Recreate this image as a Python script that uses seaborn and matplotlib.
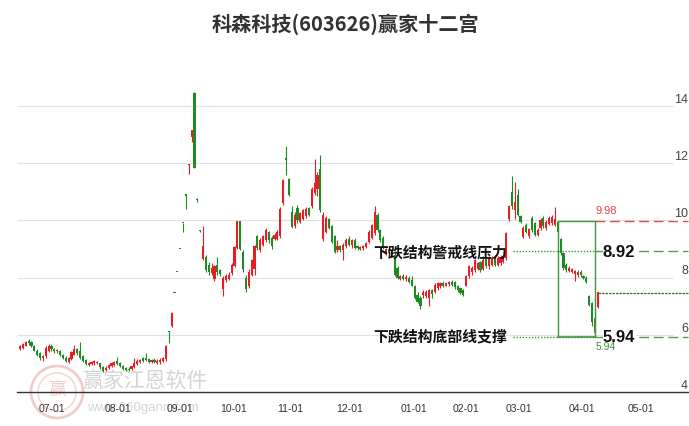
import numpy as np
import pandas as pd
import matplotlib
matplotlib.use('Agg')
import matplotlib.pyplot as plt
import matplotlib.transforms as mtransforms
from matplotlib.patches import Ellipse
import seaborn as sns

title = '科森科技(603626)赢家十二宫'

# daily candles, one entry per trading day
opens = [5.50, 5.55, 5.62, 5.80, 5.75, 5.62, 5.45, 5.35, 5.18, 5.25,
         5.45, 5.62, 5.52, 5.42, 5.45, 5.30, 5.20, 5.05, 5.15, 5.30,
         5.50, 5.42, 5.25, 5.12, 4.96, 4.98, 5.00, 5.02, 5.00, 4.86,
         4.78, 4.84, 4.90, 4.96, 5.10, 5.02, 4.92, 4.85, 4.82, 4.80,
         4.88, 4.98, 5.05, 5.18, 5.20, 5.15, 5.05, 5.12, 5.02, 5.06,
         5.10, 5.15, 6.13, 6.30, 7.46, 8.20, 9.00, 9.92, 10.89, 11.95,
         12.92, 14.45, 10.76, 9.64, 8.65, 8.72, 8.45, 8.15, 7.95, 8.45,
         8.25, 7.60, 7.90, 7.95, 8.15, 8.42, 9.05, 9.98, 8.90, 8.00,
         7.70, 8.10, 8.30, 9.45, 8.95, 9.15, 9.30, 9.58, 9.40, 9.36,
         9.35, 9.45, 10.60, 12.18, 11.45, 10.30, 9.80, 10.45, 9.95, 10.05,
         10.15, 10.45, 10.50, 10.95, 11.10, 11.80, 9.35, 9.60, 10.05, 9.80,
         9.45, 8.95, 9.10, 8.95, 9.10, 9.35, 9.15, 9.30, 9.10, 9.00,
         9.02, 9.08, 9.25, 9.40, 9.55, 10.20, 9.65, 9.40, 8.85, 9.00,
         8.78, 8.80, 8.35, 7.95, 8.05, 7.95, 8.00, 7.90, 7.72, 7.40,
         7.30, 7.38, 7.35, 7.30, 7.55, 7.50, 7.62, 7.70, 7.82, 7.72,
         7.76, 7.85, 7.84, 7.70, 7.62, 7.55, 7.72, 8.05, 8.20, 8.25,
         8.30, 8.53, 8.30, 8.65, 8.40, 8.45, 8.70, 8.45, 8.50, 8.55,
         8.70, 10.05, 10.98, 10.35, 10.90, 10.15, 9.42, 9.85, 9.45, 10.10,
         9.90, 9.48, 9.72, 10.10, 9.72, 9.88, 9.90, 9.85, 9.95, 9.35,
         8.85, 8.45, 8.22, 8.18, 8.12, 8.08, 8.20, 8.05, 8.00, 7.35,
         7.10, 6.60, 6.97]
highs = [5.63, 5.70, 5.80, 5.84, 5.78, 5.65, 5.50, 5.40, 5.30, 5.62,
         5.68, 5.68, 5.55, 5.50, 5.48, 5.33, 5.25, 5.22, 5.45, 5.65,
         5.55, 5.75, 5.30, 5.15, 5.05, 5.08, 5.12, 5.10, 5.02, 4.90,
         4.90, 4.98, 5.04, 5.10, 5.22, 5.06, 4.95, 4.88, 4.86, 4.92,
         5.20, 5.14, 5.15, 5.22, 5.35, 5.20, 5.16, 5.18, 5.14, 5.20,
         5.22, 5.64, 6.13, 6.80, 7.46, 8.20, 9.00, 9.92, 10.89, 11.97,
         13.16, 14.48, 10.80, 9.66, 9.81, 8.80, 8.55, 8.50, 8.45, 8.72,
         8.30, 8.06, 8.13, 8.20, 8.50, 9.12, 9.99, 9.99, 8.95, 8.10,
         8.30, 8.66, 9.15, 9.50, 9.38, 9.50, 9.75, 9.62, 9.45, 9.55,
         9.65, 10.46, 11.45, 12.61, 11.50, 10.50, 10.30, 10.55, 10.30, 10.40,
         10.47, 10.48, 11.17, 12.15, 11.70, 12.28, 10.29, 10.15, 10.10, 9.85,
         9.50, 9.30, 9.15, 9.20, 9.40, 9.45, 9.35, 9.40, 9.15, 9.12,
         9.15, 9.25, 9.65, 9.88, 10.52, 10.25, 9.70, 9.45, 9.05, 9.05,
         9.00, 8.85, 8.42, 8.10, 8.12, 8.08, 8.05, 8.05, 7.75, 7.50,
         7.35, 7.55, 7.55, 7.60, 7.60, 7.80, 7.85, 7.85, 7.88, 7.86,
         7.88, 7.90, 7.88, 7.75, 7.68, 7.60, 8.08, 8.45, 8.42, 8.65,
         8.55, 8.58, 8.75, 8.70, 8.75, 8.75, 8.78, 8.75, 8.78, 8.80,
         9.60, 10.55, 11.56, 11.33, 11.10, 10.20, 9.80, 9.90, 9.75, 10.15,
         9.95, 9.72, 10.10, 10.15, 10.00, 10.15, 10.20, 10.46, 9.98, 9.40,
         8.90, 8.50, 8.40, 8.35, 8.25, 8.25, 8.25, 8.10, 8.05, 7.40,
         7.15, 6.90, 7.50]
lows = [5.47, 5.52, 5.60, 5.66, 5.58, 5.42, 5.26, 5.12, 5.10, 5.20,
        5.40, 5.45, 5.38, 5.38, 5.27, 5.15, 5.04, 5.00, 5.12, 5.28,
        5.30, 5.16, 5.05, 4.95, 4.92, 4.94, 4.96, 4.98, 4.82, 4.70,
        4.74, 4.80, 4.86, 4.92, 4.94, 4.86, 4.78, 4.74, 4.72, 4.76,
        4.85, 4.95, 5.00, 5.06, 5.08, 5.02, 5.00, 5.00, 4.98, 4.98,
        5.06, 5.08, 5.70, 6.27, 7.46, 8.20, 9.00, 9.60, 10.40, 11.62,
        12.74, 11.83, 10.66, 9.60, 8.60, 8.20, 8.10, 8.10, 7.88, 8.10,
        8.05, 7.36, 7.85, 7.90, 8.10, 8.38, 9.00, 8.95, 8.20, 7.48,
        7.65, 8.05, 8.10, 8.98, 8.88, 9.10, 9.25, 9.20, 9.00, 9.30,
        9.30, 9.40, 10.55, 11.60, 10.85, 9.75, 9.75, 9.90, 9.90, 10.00,
        10.10, 10.15, 10.45, 10.90, 10.85, 10.30, 9.28, 9.55, 9.70, 9.20,
        8.85, 8.88, 8.90, 8.62, 9.05, 9.10, 9.05, 9.00, 8.95, 8.97,
        8.98, 9.02, 9.20, 9.35, 9.50, 9.60, 9.25, 9.00, 8.80, 8.82,
        8.75, 8.05, 7.95, 7.90, 7.90, 7.88, 7.80, 7.70, 7.25, 7.10,
        6.90, 7.30, 7.30, 7.02, 7.30, 7.45, 7.58, 7.65, 7.68, 7.70,
        7.72, 7.70, 7.60, 7.50, 7.42, 7.36, 7.70, 8.00, 8.10, 8.20,
        8.25, 8.20, 8.25, 8.35, 8.30, 8.40, 8.40, 8.40, 8.45, 8.50,
        8.60, 9.98, 10.40, 10.05, 10.15, 9.90, 9.38, 9.55, 9.40, 9.60,
        9.45, 9.45, 9.68, 9.75, 9.68, 9.85, 9.85, 9.80, 9.55, 8.80,
        8.28, 8.20, 8.20, 8.15, 7.88, 8.02, 8.02, 7.95, 7.82, 7.00,
        6.30, 5.94, 6.95]
closes = [5.60, 5.68, 5.76, 5.72, 5.62, 5.45, 5.30, 5.18, 5.25, 5.55,
          5.62, 5.50, 5.42, 5.48, 5.30, 5.20, 5.08, 5.18, 5.40, 5.52,
          5.35, 5.20, 5.10, 4.98, 5.02, 5.05, 5.08, 5.06, 4.86, 4.75,
          4.85, 4.95, 5.00, 5.06, 4.98, 4.90, 4.82, 4.78, 4.76, 4.90,
          5.02, 5.10, 5.12, 5.10, 5.12, 5.06, 5.12, 5.04, 5.10, 5.12,
          5.18, 5.60, 6.10, 6.75, 7.46, 8.20, 9.00, 9.90, 10.87, 11.97,
          13.16, 11.83, 10.70, 9.64, 9.12, 8.25, 8.20, 8.35, 8.40, 8.20,
          8.12, 8.00, 8.05, 8.10, 8.45, 9.08, 9.98, 9.00, 8.30, 7.60,
          8.20, 8.60, 9.10, 9.05, 9.30, 9.45, 9.68, 9.30, 9.10, 9.50,
          9.60, 10.40, 11.40, 12.12, 10.88, 9.78, 10.20, 10.00, 10.25, 10.35,
          10.40, 10.20, 11.10, 11.30, 11.60, 10.35, 10.20, 10.10, 9.75, 9.25,
          8.90, 9.10, 8.95, 9.15, 9.30, 9.15, 9.30, 9.05, 9.02, 9.08,
          9.10, 9.20, 9.60, 9.85, 10.30, 9.65, 9.30, 9.05, 9.00, 8.85,
          8.98, 8.10, 8.00, 8.05, 7.95, 8.02, 7.85, 7.72, 7.30, 7.15,
          7.00, 7.48, 7.50, 7.55, 7.42, 7.75, 7.80, 7.80, 7.72, 7.82,
          7.84, 7.75, 7.66, 7.55, 7.45, 7.40, 8.05, 8.40, 8.35, 8.60,
          8.50, 8.25, 8.60, 8.40, 8.65, 8.70, 8.45, 8.70, 8.72, 8.75,
          9.55, 10.50, 10.50, 10.65, 10.20, 9.95, 9.75, 9.60, 9.70, 9.65,
          9.50, 9.68, 10.00, 9.80, 9.95, 10.10, 10.12, 10.05, 9.60, 8.85,
          8.32, 8.26, 8.35, 8.30, 8.22, 8.20, 8.08, 8.00, 7.86, 7.05,
          6.45, 6.05, 7.49]

# month ticks (trading-day index) and labels
tick_idx = [11.2, 34.3, 55.9, 74.8, 94.4, 115.4, 137.8, 155.9, 174.5, 196.5, 217.1]
tick_labels = ['07-01', '08-01', '09-01', '10-01', '11-01', '12-01',
               '01-01', '02-01', '03-01', '04-01', '05-01']
y_labels = [4, 6, 8, 10, 12, 14]

# levels of the "winner" analysis
top_price = 9.98
warn_price = 8.92
bottom_price = 5.94
last_price = 7.47
warn_text = '下跌结构警戒线压力'
bottom_text = '下跌结构底部线支撑'
box_start, box_end = 188, 201
level_start = 172.4
special_bar = 201

RED = '#ea1c24'
GREEN = '#1d8a22'
BROWN = '#9a5a1e'
LINE_GREEN = '#3d963d'

sns.set_style('white')
plt.rcParams['font.family'] = ['Liberation Sans', 'Noto Sans CJK SC']
plt.rcParams['axes.unicode_minus'] = False

df = pd.DataFrame({'open': opens, 'high': highs, 'low': lows, 'close': closes})
df['i'] = np.arange(len(df))
df['color'] = np.where(df['close'] > df['open'], RED, GREEN)
df.loc[special_bar, 'color'] = BROWN
df['body_lo'] = df[['open', 'close']].min(axis=1)
df['body_h'] = (df['close'] - df['open']).abs().clip(lower=0.04)

fig = plt.figure(figsize=(6.89, 4.27), dpi=100)
ax = fig.add_axes([17 / 689, 34 / 427, 672 / 689, 348 / 427])
x_left, x_right = -1.05, 233.9
ax.set_xlim(x_left, x_right)
ax.set_ylim(4, 16.17)

# grid
ax.hlines([6, 8, 10, 12, 14], x_left, 228.3, color='#e2e2e2', lw=0.8, zorder=0)
ytrans = mtransforms.blended_transform_factory(ax.transAxes, ax.transData)
for v in y_labels:
    ax.text(0.9985, v + 0.04, str(v), transform=ytrans, ha='right', va='bottom',
            fontsize=9, color='#444444')

# candles
ax.vlines(df['i'], df['low'], df['high'], colors=df['color'], lw=0.8, zorder=2)
ax.bar(df['i'], df['body_h'], bottom=df['body_lo'], width=0.75,
       color=df['color'], linewidth=0, zorder=3)

# analysis box
ax.plot([box_start, box_start], [bottom_price, top_price], color=LINE_GREEN, lw=1, zorder=4)
ax.plot([box_end, box_end], [bottom_price, top_price], color=LINE_GREEN, lw=1, zorder=4)
ax.plot([box_start, box_end], [top_price, top_price], color=LINE_GREEN, lw=1, zorder=4)
ax.plot([box_start, box_end], [bottom_price, bottom_price], color=LINE_GREEN, lw=1.2, zorder=4)

# level lines
ax.plot([level_start, box_end], [warn_price, warn_price], color=LINE_GREEN, lw=1,
        dashes=(1, 1.2), zorder=4)
ax.plot([level_start, box_end], [bottom_price, bottom_price], color=LINE_GREEN, lw=1,
        dashes=(1, 1.2), zorder=4)
ax.plot([box_end, 233.6], [top_price, top_price], color='#e84a45', lw=1,
        dashes=(7, 3.5), zorder=4)
ax.plot([box_end, 233.6], [warn_price, warn_price], color='#4f9f4f', lw=1,
        dashes=(7, 3.5), zorder=4)
ax.plot([box_end, 233.6], [bottom_price, bottom_price], color='#4f9f4f', lw=1,
        dashes=(7, 3.5), zorder=4)
ax.plot([box_end + 1, 233.6], [last_price, last_price], color='#2a7a2a', lw=0.9,
        dashes=(2, 0.8), zorder=4)

# labels
ax.text(170.3, warn_price, warn_text, ha='right', va='center', fontsize=10.7,
        fontweight='bold', color='#111111', family=['Noto Sans CJK SC'], zorder=6)
ax.text(170.3, bottom_price + 0.03, bottom_text, ha='right', va='center', fontsize=10.7,
        fontweight='bold', color='#111111', family=['Noto Sans CJK SC'], zorder=6)
ax.text(203.8, warn_price, f'{warn_price:.2f}', ha='left', va='center', fontsize=12,
        fontweight='bold', color='#111111', zorder=6,
        bbox=dict(facecolor='white', edgecolor='none', pad=0.3))
ax.text(203.8, bottom_price, f'{bottom_price:.2f}', ha='left', va='center', fontsize=12,
        fontweight='bold', color='#111111', zorder=6,
        bbox=dict(facecolor='white', edgecolor='none', pad=0.3))
ax.text(box_end + 0.1, top_price + 0.2, f'{top_price:.2f}', ha='left', va='bottom',
        fontsize=8, color='#e8413c', zorder=6)
ax.text(box_end + 0.1, bottom_price - 0.14, f'{bottom_price:.2f}', ha='left', va='top',
        fontsize=7.5, color='#3d8f3d', zorder=6)

# watermark
ax.add_artist(Ellipse((57 / 689, 1 - 393 / 427), 52 / 689, 52 / 427, transform=fig.transFigure,
                      fill=False, edgecolor='#f1cccc', lw=2, zorder=0.5, clip_on=False))
ax.add_artist(Ellipse((57 / 689, 1 - 393 / 427), 38 / 689, 38 / 427, transform=fig.transFigure,
                      fill=False, edgecolor='#f4d8d8', lw=1.2, zorder=0.5, clip_on=False))
ax.text(57 / 689, 1 - 390 / 427, '赢', transform=fig.transFigure, ha='center', va='center',
        fontsize=13, color='#f1cccc', family=['Noto Sans CJK SC'], zorder=0.5)
ax.text(145 / 689, 1 - 381 / 427, '赢家江恩软件', transform=fig.transFigure, ha='center',
        va='center', fontsize=15, color='#d4d4d4', family=['Noto Sans CJK SC'], zorder=0.5)
ax.text(143 / 689, 1 - 408 / 427, 'www.360gann.com', transform=fig.transFigure, ha='center',
        va='center', fontsize=9.5, color='#d6d6d6', zorder=0.5)

# axes styling
sns.despine(ax=ax, left=True, right=True, top=True, bottom=False)
ax.spines['bottom'].set_color('#333333')
ax.spines['bottom'].set_linewidth(1)
ax.set_yticks([])
ax.set_xticks(tick_idx, tick_labels)
ax.tick_params(axis='x', length=5.5, width=0.8, color='#333333', direction='out',
               pad=2.5, labelsize=7.5, labelcolor='#333333')

fig.text(345 / 689, 1 - 24 / 427, title, ha='center', va='center', fontsize=14.5,
         fontweight='bold', color='#333333', family=['Noto Sans CJK SC'])

fig.savefig('out.png', dpi=100)
